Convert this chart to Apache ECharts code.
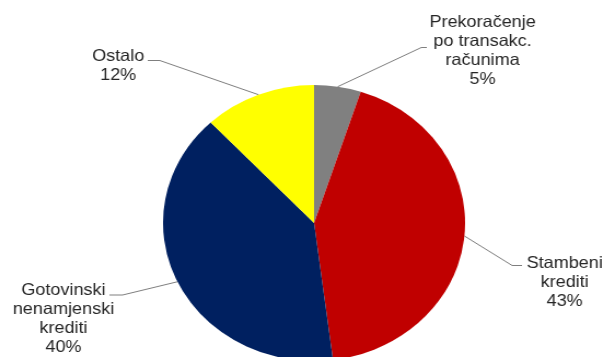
<!DOCTYPE html>
<html>
<head>
<meta charset="utf-8">
<script src="https://cdn.jsdelivr.net/npm/echarts@6/dist/echarts.min.js"></script>
<style>
  html, body { margin: 0; padding: 0; background: #fff; overflow: hidden; }
  /* the source picture is stretched horizontally, so the chart is too */
  #main { width: 551px; height: 357px; transform: scaleX(1.0943); transform-origin: 0 0; }
</style>
</head>
<body>
<div id="main"></div>
<script>
var categories = ['Prekoračenje\npo transakc.\nračunima', 'Stambeni\nkrediti', 'Gotovinski\nnenamjenski\nkrediti', 'Ostalo'];
var values = [5, 43, 40, 12];
var colors = ['#808080', '#C00000', '#002060', '#FFFF00'];

// label placement: text centre, leader level, bend and end of the leader
var labelPos = [
  { x: 441, y: 51, lineY: 47.5, bendX: 385, endX: 390 },
  { x: 516, y: 282, lineY: 265.5, bendX: 468, endX: 477 },
  { x: 58, y: 319, lineY: 295, bendX: 112, endX: 100 },
  { x: 108, y: 66, lineY: 60.5, bendX: 146, endX: 135 }
];

var chart = echarts.init(document.getElementById('main'));

chart.setOption({
  backgroundColor: '#ffffff',
  animation: false,
  series: [{
    type: 'pie',
    center: [287, 223],
    radius: 138,
    startAngle: 90,
    clockwise: true,
    label: {
      show: true,
      position: 'outside',
      formatter: '{b}\n{c}%',
      fontFamily: 'Liberation Sans, Arial, sans-serif',
      fontSize: 16.5,
      lineHeight: 19,
      color: '#262626',
      width: 130,
      overflow: 'none'
    },
    labelLine: {
      show: true,
      length: 20,
      length2: 8,
      lineStyle: { color: '#7f7f7f', width: 1 }
    },
    itemStyle: { borderWidth: 0 },
    emphasis: { disabled: true },
    labelLayout: function (params) {
      var p = labelPos[params.dataIndex];
      var pts = params.labelLinePoints;
      return {
        x: p.x,
        y: p.y,
        align: 'center',
        verticalAlign: 'middle',
        labelLinePoints: [pts[0], [p.bendX, p.lineY], [p.endX, p.lineY]]
      };
    },
    data: categories.map(function (name, i) {
      return { name: name, value: values[i], itemStyle: { color: colors[i] } };
    })
  }]
});
</script>
</body>
</html>
